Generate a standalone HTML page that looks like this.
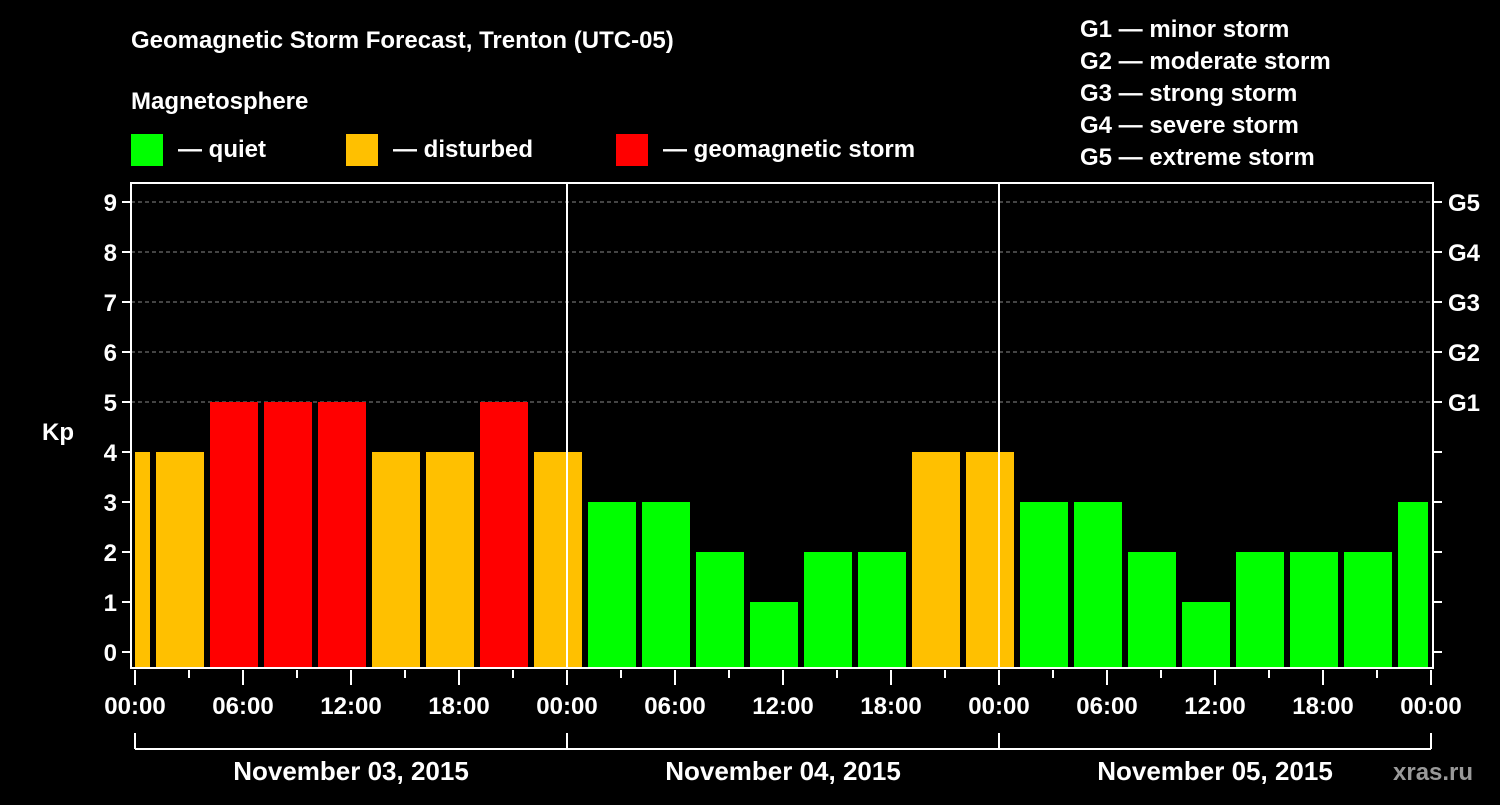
<!DOCTYPE html>
<html><head><meta charset="utf-8"><style>
body{margin:0;background:#000;width:1500px;height:800px;overflow:hidden}
svg text{font-family:"Liberation Sans",Arial,sans-serif;font-weight:bold;fill:#fff}
</style></head><body>
<svg id="chart" width="1500" height="800" xmlns="http://www.w3.org/2000/svg">
<rect width="1500" height="800" fill="#000"/>
<text x="131" y="48" font-size="24">Geomagnetic Storm Forecast, Trenton (UTC-05)</text>
<text x="131" y="109" font-size="24">Magnetosphere</text>
<rect x="131" y="134" width="32" height="32" fill="#00ff00"/>
<text x="178" y="157" font-size="24">— quiet</text>
<rect x="346" y="134" width="32" height="32" fill="#ffc000"/>
<text x="393" y="157" font-size="24">— disturbed</text>
<rect x="616" y="134" width="32" height="32" fill="#ff0000"/>
<text x="663" y="157" font-size="24">— geomagnetic storm</text>
<g font-size="24">
<text x="1080" y="37">G1 — minor storm</text>
<text x="1080" y="69">G2 — moderate storm</text>
<text x="1080" y="101">G3 — strong storm</text>
<text x="1080" y="133">G4 — severe storm</text>
<text x="1080" y="165">G5 — extreme storm</text>
</g>
<text x="42" y="440" font-size="24">Kp</text>
<text x="1393" y="780" font-size="24" fill="#888" style="fill:#9a9a9a">xras.ru</text>
<g id="grid"></g><g id="bars"></g><g id="axes"></g>
</svg>
<script>
const kpValues=[4,4,5,5,5,4,4,5,4,3,3,2,1,2,2,4,4,3,3,2,1,2,2,2,3];
const barStartHour=-2;
const dayLabels=["November 03, 2015","November 04, 2015","November 05, 2015"];
const hourLabels=["00:00","06:00","12:00","18:00"];
const gLabels=["G1","G2","G3","G4","G5"];
const NS="http://www.w3.org/2000/svg";
const L=131,R=1433,T=183,B=668,X0=135,PXH=18;
const xh=h=>X0+h*PXH;
const yk=k=>652-50*k;
function mk(tag,a,parent){const e=document.createElementNS(NS,tag);for(const k in a)e.setAttribute(k,a[k]);document.getElementById(parent).appendChild(e);return e;}
// grid
for(let k=5;k<=9;k++){const g=mk('line',{x1:L,x2:R,y1:yk(k),y2:yk(k),stroke:'#888','stroke-dasharray':'4,3','stroke-width':1},'grid');

}
// bars
kpValues.forEach((v,i)=>{const h0=barStartHour+3*i;let x1=xh(h0)+3,x2=xh(h0+3)-3;x1=Math.max(x1,X0);x2=Math.min(x2,xh(72)-3);
const c=v>=5?'#ff0000':(v>=4?'#ffc000':'#00ff00');
const r=mk('rect',{x:x1,y:yk(v),width:x2-x1,height:B-yk(v),fill:c},'bars');

});
// frame
const f=mk('rect',{x:L,y:T,width:R-L,height:B-T,fill:'none',stroke:'#fff','stroke-width':2},'axes');


for(let d=1;d<3;d++){const l=mk('line',{x1:xh(24*d),x2:xh(24*d),y1:T,y2:B,stroke:'#fff','stroke-width':2},'axes');

}
for(let k=0;k<=9;k++){
mk('line',{x1:L-9,x2:L,y1:yk(k),y2:yk(k),stroke:'#fff','stroke-width':2},'axes');
mk('line',{x1:R,x2:R+9,y1:yk(k),y2:yk(k),stroke:'#fff','stroke-width':2},'axes');
const t=mk('text',{x:L-14,y:yk(k)+9,'text-anchor':'end','font-size':24},'axes');t.textContent=k;


if(k>=5){const g=mk('text',{x:1448,y:yk(k)+9,'font-size':24},'axes');g.textContent=gLabels[k-5];

}}
for(let h=0;h<=72;h+=3){const major=h%6===0;
mk('line',{x1:xh(h),x2:xh(h),y1:B+2,y2:B+(major?17:10),stroke:'#fff','stroke-width':2},'axes');
if(major){const t=mk('text',{x:xh(h),y:714,'text-anchor':'middle','font-size':24},'axes');t.textContent=hourLabels[(h/6)%4];

}}
mk('line',{x1:X0,x2:xh(72),y1:749,y2:749,stroke:'#fff','stroke-width':2},'axes');
for(let d=0;d<=3;d++)mk('line',{x1:xh(24*d),x2:xh(24*d),y1:733,y2:749,stroke:'#fff','stroke-width':2},'axes');
dayLabels.forEach((s,d)=>{const t=mk('text',{x:xh(24*d+12),y:780,'text-anchor':'middle','font-size':26},'axes');t.textContent=s;

});
</script>
</body></html>
